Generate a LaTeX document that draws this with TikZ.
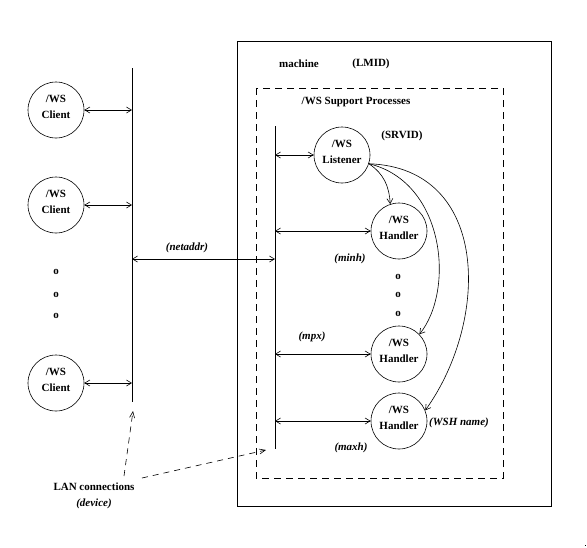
\documentclass[tikz,border=0pt]{standalone}
\usepackage{fontspec}
\setmainfont{Liberation Serif}
\usetikzlibrary{arrows.meta}
\begin{document}
\begin{tikzpicture}[x=1pt,y=-1pt,
  every path/.style={line width=0.6pt},
  circ/.style={draw,circle,minimum size=56pt,inner sep=0pt},
  txt/.style={font=\bfseries\fontsize{11}{15}\selectfont,inner sep=0pt,align=center},
  itx/.style={font=\bfseries\itshape\fontsize{11}{12}\selectfont,inner sep=0pt},
  wl/.style={font=\bfseries\fontsize{11}{16}\selectfont,inner sep=0pt,align=center,yshift=3pt},
  bi/.style={{Straight Barb[length=5pt,width=6pt]}-{Straight Barb[length=5pt,width=6pt]}},
  one/.style={-{Straight Barb[length=5pt,width=6pt]}},
  lan/.style={dashed,dash pattern=on 6pt off 5pt,-{Straight Barb[length=6pt,width=5pt]}}]
\useasboundingbox (0,0) rectangle (587,547);
% outer machine box and dashed support box
\draw (237,41) rectangle (551,506);
\draw[dash pattern=on 7pt off 5pt] (256,88) rectangle (503,478);
\node[txt] (mach) at (299,64) {machine};
\node[txt] (lmid) at (371,64) {(LMID)};
\node[txt] (wssp) at (356,102) {/WS Support Processes};
\node[txt] (srvid) at (402,136) {(SRVID)};
% buses
\coordinate (lbt) at (132,68);
\coordinate (lbb) at (132,402);
\coordinate (rbt) at (275,126);
\coordinate (rbb) at (275,449);
\draw (lbt) -- (lbb);
\draw (rbt) -- (rbb);
% clients
\node[circ,label={[wl,name=c1t]center:/WS\\Client}] (c1) at (56,110) {};
\node[circ,label={[wl,name=c2t]center:/WS\\Client}] (c2) at (56,205) {};
\node[circ,label={[wl,name=c3t]center:/WS\\Client}] (c3) at (56,383) {};
\node[txt] (d1) at (56,272) {o};
\node[txt] (d2) at (56,295) {o};
\node[txt] (d3) at (56,316) {o};
\draw[bi] (c1.east) -- (c1.east -| lbt);
\draw[bi] (c2.east) -- (c2.east -| lbt);
\draw[bi] (c3.east) -- (c3.east -| lbt);
% listener and handlers
\node[circ,label={[wl,name=lt]center:/WS\\Listener}] (L) at (342,155) {};
\node[circ,label={[wl,name=h1t]center:/WS\\Handler}] (H1) at (399,231) {};
\node[circ,label={[wl,name=h2t]center:/WS\\Handler}] (H2) at (399,354) {};
\node[circ,label={[wl,name=h3t]center:/WS\\Handler}] (H3) at (399,421) {};
\node[txt] (e1) at (398,277) {o};
\node[txt] (e2) at (398,295) {o};
\node[txt] (e3) at (398,314) {o};
\draw[bi] (L.west -| rbt) -- (L.west);
\draw[bi] (H1.west -| rbt) -- (H1.west);
\draw[bi] (H2.west -| rbt) -- (H2.west);
\draw[bi] (H3.west -| rbt) -- (H3.west);
% netaddr link
\coordinate (na1) at (132,259);
\coordinate (na2) at (275,259);
\draw[bi] (na1) -- (na2);
\node[itx] (netaddr) at (187,248) {(netaddr)};
\node[itx] (minh) at (350,259) {(minh)};
\node[itx] (mpx) at (312,337) {(mpx)};
\node[itx] (maxh) at (351,448) {(maxh)};
\node[itx] (wshname) at (459,423) {(WSH name)};
% curved arrows from listener
\draw[one] (L.-18) .. controls (384,174) and (389,186) .. (H1.108);
\draw[one] (L.-18) .. controls (445,182) and (455,290) .. (H2.44);
\draw[one] (L.-18) .. controls (490,168) and (490,320) .. (H3.22);
% LAN connections
\node[txt] (lan) at (94,487) {LAN connections};
\node[itx] (dev) at (94,504) {(device)};
\coordinate (lanA) at (124,476);
\coordinate (lanB) at (142,478);
\coordinate (lanT1) at (133,411);
\coordinate (lanT2) at (266,450);
\draw[lan] (lanA) -- (lanT1);
\draw[lan] (lanB) -- (lanT2);
\fill (584.5,544.5) rectangle (586,546);
\end{tikzpicture}
\end{document}
